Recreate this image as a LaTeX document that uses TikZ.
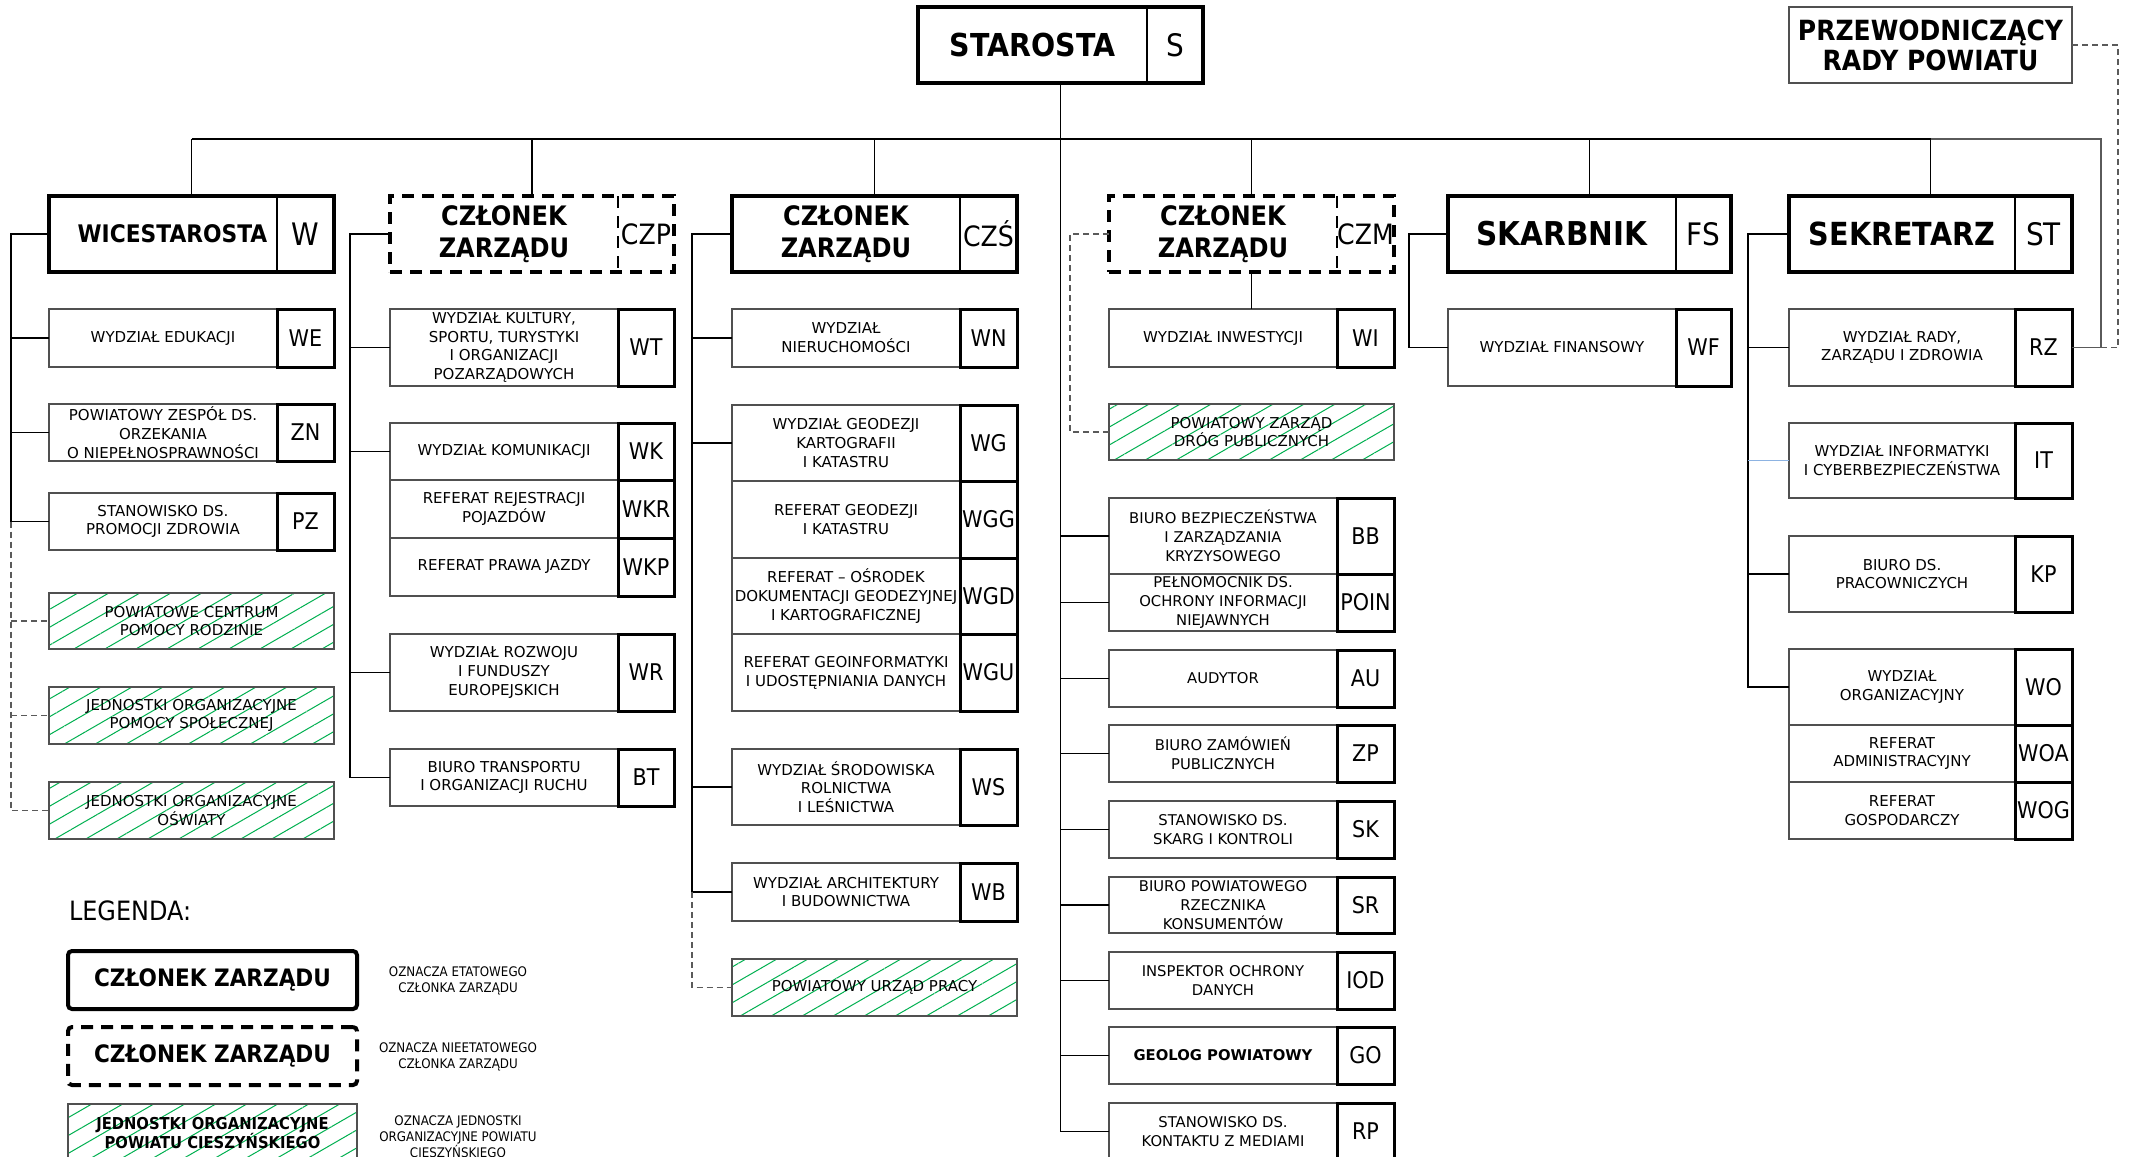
\documentclass[tikz,border=0pt]{standalone}
\usepackage{fontspec}
\setmainfont{DejaVu Sans}
\newfontfamily\hfont{DejaVu Sans}[FakeStretch=0.9]
\usetikzlibrary{patterns.meta}
\definecolor{hatchgreen}{RGB}{0,176,80}
\definecolor{boxgray}{RGB}{80,80,80}
\definecolor{itblue}{RGB}{141,179,226}
\definecolor{cgray}{RGB}{90,90,90}
\tikzset{
  every node/.style={inner sep=0pt, outer sep=0pt},
  lbox/.style={draw=boxgray, line width=0.75pt, align=center, font=\fontsize{7.5}{9.4}\selectfont},
  mbox/.style={lbox, font=\fontsize{7.4}{9.5}\selectfont},
  cbox/.style={draw=black, line width=1.5pt, font=\hfont\fontsize{11.5}{14}\selectfont},
  hatchbox/.style={lbox, pattern={Lines[angle=30,distance=7.75pt,line width=0.5pt]}, pattern color=hatchgreen},
  hframe/.style={draw=black, line width=2pt},
  dframe/.style={draw=black, line width=2pt, dash pattern=on 6pt off 4pt},
  htext/.style={align=center, font=\hfont\bfseries\fontsize{13.4}{16}\selectfont},
  hcode/.style={font=\hfont\fontsize{15.5}{18}\selectfont},
  legdesc/.style={align=center, font=\hfont\fontsize{6.6}{8}\selectfont},
  conn/.style={draw=black, line width=0.7pt},
  gconn/.style={draw=cgray, line width=0.7pt},
  bconn/.style={draw=itblue, line width=0.7pt},
  dconn/.style={draw=cgray, line width=0.7pt, dash pattern=on 3pt off 2pt},
}
\newcommand\mk[7]{\node[#6, minimum width={((#4)-(#2))*0.5pt}, minimum height={((#5)-(#3))*0.5pt}] (#1) at ({((#2)+(#4))/2},{((#3)+(#5))/2}) {#7};}
\newcommand\ubox[5]{\mk{#1}{\cxa}{#2}{\cxd}{#3}{lbox}{#4}\mk{#1c}{\cxd}{#2}{\cxb}{#3}{cbox}{#5}}
\newcommand\mbx[5]{\mk{#1}{\cxa}{#2}{\cxd}{#3}{mbox}{#4}\mk{#1c}{\cxd}{#2}{\cxb}{#3}{cbox}{#5}}
\newcommand\hbx[4]{\mk{#1}{\cxa}{#2}{\cxb}{#3}{hatchbox}{#4}}
\newcommand\hdr[9]{%
  \mk{#1}{#2}{#5}{#4}{#6}{#7}{}%
  \mk{#1t}{#2}{#5}{#3}{#6}{htext}{#8}%
  \mk{#1c}{#3}{#5}{#4}{#6}{hcode}{#9}%
  \draw[#7, line width=0.75pt] (#1t.north east) -- (#1t.south east);}
\newcommand\czc[1]{{\fontsize{14}{16}\selectfont #1}}
\begin{document}
\begin{tikzpicture}[x=0.5pt,y=-0.5pt]
\useasboundingbox (0,0) rectangle (2132,1157);
\fill[white] (0,0) rectangle (2132,1157);
\begin{scope}
\clip (0,0) rectangle (2132,1157);

% top level
\hdr{star}{918}{1147}{1203}{7}{83}{hframe}{{\fontsize{15.8}{18}\selectfont STAROSTA}}{S}
\mk{prz}{1789}{7}{2072}{83}{draw=boxgray, line width=0.9pt, align=center, font=\hfont\bfseries\fontsize{13.9}{15}\selectfont}{PRZEWODNICZĄCY\\RADY POWIATU}

% column headers
\hdr{wice}{49}{277}{334}{196}{272}{hframe}{{\fontsize{12.1}{14}\selectfont\hspace*{9.5pt}WICESTAROSTA}}{W}
\hdr{czp}{390}{618}{674}{196}{272}{dframe}{CZŁONEK\\ZARZĄDU}{\czc{CZP}}
\hdr{czs}{732}{960}{1017}{196}{272}{hframe}{CZŁONEK\\ZARZĄDU}{\czc{CZŚ}}
\hdr{czm}{1109}{1337}{1394}{196}{272}{dframe}{CZŁONEK\\ZARZĄDU}{\czc{CZM}}
\hdr{skarb}{1448}{1676}{1731}{196}{272}{hframe}{{\fontsize{16.4}{18}\selectfont SKARBNIK}}{FS}
\hdr{sek}{1789}{2015}{2072}{196}{272}{hframe}{{\fontsize{15.9}{18}\selectfont SEKRETARZ}}{ST}

% column 1
\def\cxa{49}\def\cxd{277}\def\cxb{334}
\ubox{we}{309}{367}{WYDZIAŁ EDUKACJI}{WE}
\ubox{zn}{404}{461}{POWIATOWY ZESPÓŁ DS.\\ORZEKANIA\\O NIEPEŁNOSPRAWNOŚCI}{ZN}
\ubox{pz}{493}{550}{STANOWISKO DS.\\PROMOCJI ZDROWIA}{PZ}
\hbx{pcpr}{593}{649}{POWIATOWE CENTRUM\\POMOCY RODZINIE}
\hbx{jops}{687}{744}{JEDNOSTKI ORGANIZACYJNE\\POMOCY SPOŁECZNEJ}
\hbx{joo}{782}{839}{JEDNOSTKI ORGANIZACYJNE\\OŚWIATY}

% column 2
\def\cxa{390}\def\cxd{618}\def\cxb{674}
\ubox{wt}{309}{386}{WYDZIAŁ KULTURY,\\SPORTU, TURYSTYKI\\I ORGANIZACJI\\POZARZĄDOWYCH}{WT}
\ubox{wk}{423}{480}{WYDZIAŁ KOMUNIKACJI}{WK}
\ubox{wkr}{480}{538}{REFERAT REJESTRACJI\\POJAZDÓW}{WKR}
\ubox{wkp}{538}{596}{REFERAT PRAWA JAZDY}{WKP}
\ubox{wr}{634}{711}{WYDZIAŁ ROZWOJU\\I FUNDUSZY\\EUROPEJSKICH}{WR}
\ubox{bt}{749}{806}{BIURO TRANSPORTU\\I ORGANIZACJI RUCHU}{BT}

% column 3
\def\cxa{732}\def\cxd{960}\def\cxb{1017}
\ubox{wn}{309}{367}{WYDZIAŁ\\NIERUCHOMOŚCI}{WN}
\ubox{wg}{405}{481}{WYDZIAŁ GEODEZJI\\KARTOGRAFII\\I KATASTRU}{WG}
\ubox{wgg}{481}{558}{REFERAT GEODEZJI\\I KATASTRU}{WGG}
\ubox{wgd}{558}{634}{REFERAT – OŚRODEK\\DOKUMENTACJI GEODEZYJNEJ\\I KARTOGRAFICZNEJ}{WGD}
\ubox{wgu}{634}{711}{REFERAT GEOINFORMATYKI\\I UDOSTĘPNIANIA DANYCH}{WGU}
\ubox{ws}{749}{825}{WYDZIAŁ ŚRODOWISKA\\ROLNICTWA\\I LEŚNICTWA}{WS}
\ubox{wb}{863}{921}{WYDZIAŁ ARCHITEKTURY\\I BUDOWNICTWA}{WB}
\hbx{pup}{959}{1016}{POWIATOWY URZĄD PRACY}

% column 4
\def\cxa{1109}\def\cxd{1337}\def\cxb{1394}
\ubox{wi}{309}{367}{WYDZIAŁ INWESTYCJI}{WI}
\hbx{pzdp}{404}{460}{POWIATOWY ZARZĄD\\DRÓG PUBLICZNYCH}
\mbx{bb}{498}{574}{BIURO BEZPIECZEŃSTWA\\I ZARZĄDZANIA\\KRYZYSOWEGO}{BB}
\mbx{poin}{574}{631}{PEŁNOMOCNIK DS.\\OCHRONY INFORMACJI\\NIEJAWNYCH}{POIN}
\mbx{au}{650}{707}{AUDYTOR}{AU}
\mbx{zp}{725}{782}{BIURO ZAMÓWIEŃ\\PUBLICZNYCH}{ZP}
\mbx{sk}{801}{858}{STANOWISKO DS.\\SKARG I KONTROLI}{SK}
\mbx{sr}{877}{933}{BIURO POWIATOWEGO\\RZECZNIKA\\KONSUMENTÓW}{SR}
\mbx{iod}{952}{1009}{INSPEKTOR OCHRONY\\DANYCH}{IOD}
\mbx{go}{1027}{1084}{\bfseries GEOLOG POWIATOWY}{GO}
\mbx{rp}{1103}{1160}{STANOWISKO DS.\\KONTAKTU Z MEDIAMI}{RP}

% column 5
\def\cxa{1448}\def\cxd{1676}\def\cxb{1731}
\ubox{wf}{309}{386}{WYDZIAŁ FINANSOWY}{WF}

% column 6
\def\cxa{1789}\def\cxd{2015}\def\cxb{2072}
\ubox{rz}{309}{386}{WYDZIAŁ RADY,\\ZARZĄDU I ZDROWIA}{RZ}
\ubox{it}{423}{498}{WYDZIAŁ INFORMATYKI\\I CYBERBEZPIECZEŃSTWA}{IT}
\ubox{kp}{536}{612}{BIURO DS.\\PRACOWNICZYCH}{KP}
\ubox{wo}{649}{725}{WYDZIAŁ\\ORGANIZACYJNY}{WO}
\ubox{woa}{725}{782}{REFERAT\\ADMINISTRACYJNY}{WOA}
\ubox{wog}{782}{839}{REFERAT\\GOSPODARCZY}{WOG}

% connectors
\coordinate (bus) at (1061,139);
\coordinate (c1) at (11,0);
\coordinate (c2) at (350,0);
\coordinate (c3) at (692,0);
\coordinate (c6) at (1748,0);
\coordinate (rzj) at (2101,0);
\draw[gconn] (sek.north |- bus) -- (rzj |- bus) -- (rzj |- rzc.east) -- (rzc.east);
\draw[dconn] (prz.east) -- ++(46,0) |- (rzj |- rzc.east);
\draw[conn] (wice.north |- bus) -- (sek.north |- bus);
\foreach \n in {wice,czp,czs,czm,skarb,sek} \draw[conn] (\n.north) -- (\n.north |- bus);
\draw[conn] (star.south) -- (star.south |- rp.west) -- (rp.west);
\foreach \n in {bb,poin,au,zp,sk,sr,iod,go} \draw[conn] (star.south |- \n.west) -- (\n.west);

\draw[conn] (wice.west) -| (c1 |- pz.west) -- (pz.west);
\foreach \n in {we,zn} \draw[conn] (c1 |- \n.west) -- (\n.west);
\draw[dconn] (c1 |- pz.west) |- (joo.west);
\foreach \n in {pcpr,jops} \draw[dconn] (c1 |- \n.west) -- (\n.west);

\draw[conn] (czp.west) -| (c2 |- bt.west) -- (bt.west);
\foreach \n in {wt,wk,wr} \draw[conn] (c2 |- \n.west) -- (\n.west);

\draw[conn] (czs.west) -| (c3 |- wb.west) -- (wb.west);
\foreach \n in {wn,wg,ws} \draw[conn] (c3 |- \n.west) -- (\n.west);
\draw[dconn] (c3 |- wb.west) |- (pup.west);

\draw[conn] (czm.south) -- (czm.south |- wi.north);
\draw[dconn] (czm.west) -- ++(-39,0) |- (pzdp.west);

\draw[conn] (skarb.west) -- ++(-39,0) |- (wf.west);

\draw[conn] (sek.west) -| (c6 |- wo.west) -- (wo.west);
\foreach \n in {rz,kp} \draw[conn] (c6 |- \n.west) -- (\n.west);
\draw[bconn] (c6 |- it.west) -- (it.west);

% legend
\node[anchor=west, font=\hfont\fontsize{13.3}{15}\selectfont] (leg) at (69,911) {LEGENDA:};
\mk{l1}{68}{951}{357}{1009}{hframe, rounded corners=2pt, font=\hfont\bfseries\fontsize{12}{14}\selectfont}{CZŁONEK ZARZĄDU}
\mk{l2}{68}{1027}{357}{1085}{dframe, rounded corners=2pt, font=\hfont\bfseries\fontsize{12}{14}\selectfont}{CZŁONEK ZARZĄDU}
\mk{l3}{68}{1104}{357}{1162}{hatchbox, font=\hfont\bfseries\fontsize{8.2}{9.5}\selectfont}{JEDNOSTKI ORGANIZACYJNE\\POWIATU CIESZYŃSKIEGO}
\node[legdesc] (d1) at (458,981) {OZNACZA ETATOWEGO\\CZŁONKA ZARZĄDU};
\node[legdesc] (d2) at (458,1057) {OZNACZA NIEETATOWEGO\\CZŁONKA ZARZĄDU};
\node[legdesc] (d3) at (458,1137) {OZNACZA JEDNOSTKI\\ORGANIZACYJNE POWIATU\\CIESZYŃSKIEGO};
\end{scope}
\end{tikzpicture}
\end{document}
